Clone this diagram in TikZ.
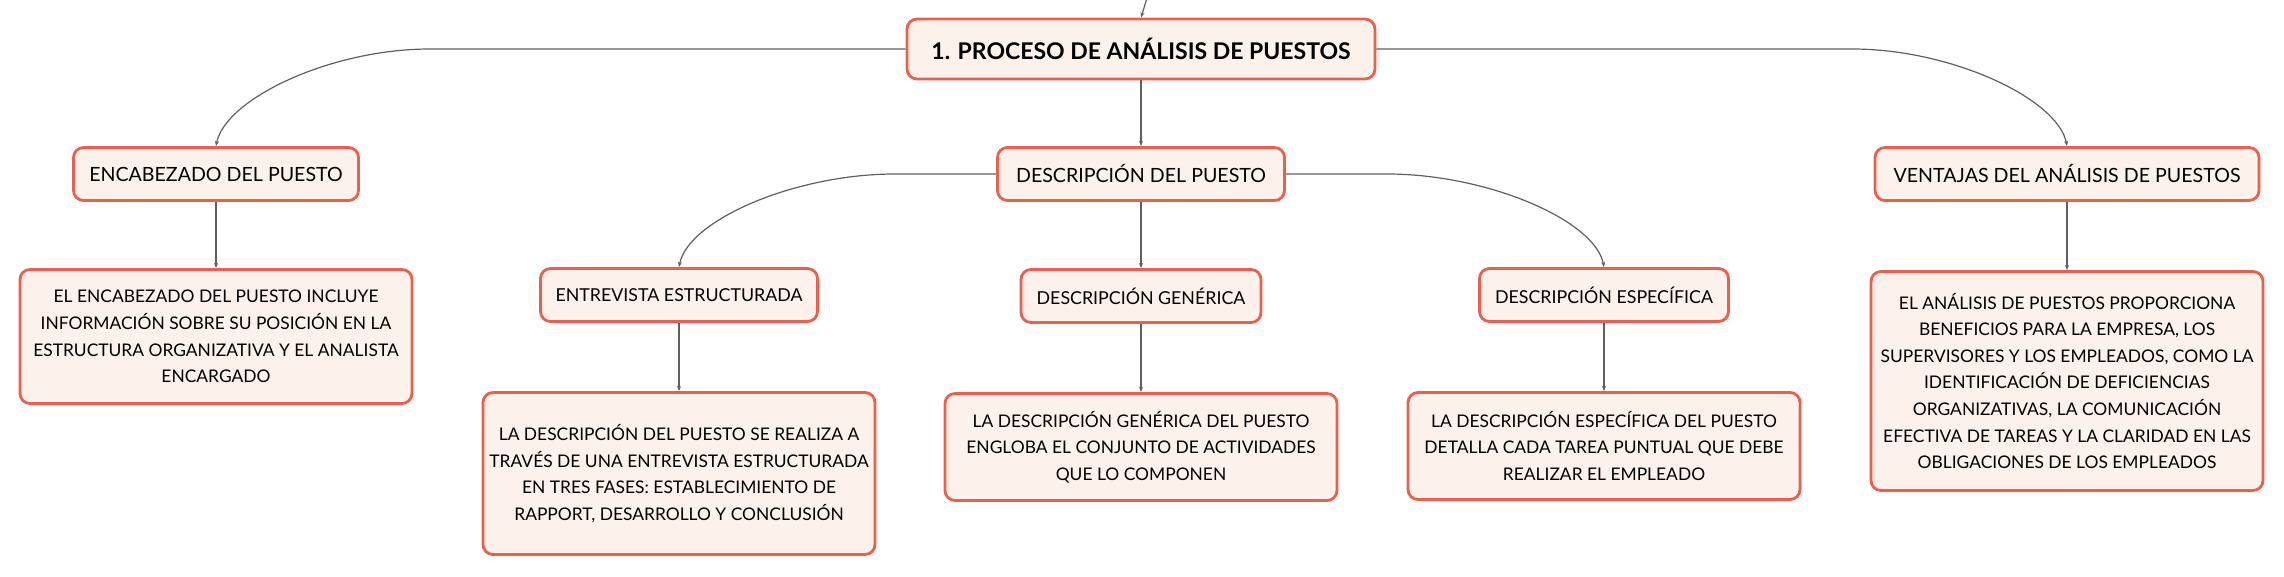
\documentclass[tikz,border=0pt]{standalone}
\usepackage{fontspec}
\setmainfont{Lato}
\usetikzlibrary{arrows.meta,positioning}
\definecolor{coral}{RGB}{234,96,76}
\definecolor{blush}{RGB}{253,241,236}
\definecolor{wire}{RGB}{95,95,95}
\tikzset{
	mmbox/.style={
		rectangle, rounded corners=5pt, line width=1.4pt,
		draw=coral, fill=blush, align=center, inner sep=0pt
	},
	%
	maintopic/.style={
		mmbox, minimum height=30pt, font=\fontsize{11.5}{13}\selectfont\bfseries
	},
	%
	topic/.style={
		mmbox, minimum height=26.5pt, font=\fontsize{9.8}{12}\selectfont
	},
	%
	subtopic/.style={
		mmbox, minimum height=26.5pt, font=\fontsize{8.9}{11}\selectfont
	},
	%
	mytextbox/.style={
		mmbox, minimum width=196pt, font=\fontsize{8.7}{13.3}\selectfont
	},
	%
	connector/.style={
		-{Stealth[length=2.6pt,width=2pt]}, draw=wire, line width=0.6pt
	}
}
\begin{document}
\begin{tikzpicture}[x=0.5pt, y=-0.5pt]
    \useasboundingbox (0,0) rectangle (2284,577);
    \node(main)[maintopic, minimum width=234pt] at (1141,49){1. PROCESO DE ANÁLISIS DE PUESTOS};
    \node(enc)[topic, minimum width=142.5pt] at (216,174){ENCABEZADO DEL PUESTO};
    \node(desc)[topic, minimum width=143.5pt] at (1141,174){DESCRIPCIÓN DEL PUESTO};
    \node(vent)[topic, minimum width=192pt] at (2067,174){VENTAJAS DEL ANÁLISIS DE PUESTOS};
    \node(entr)[subtopic, minimum width=138.5pt] at (679,295){ENTREVISTA ESTRUCTURADA};
    \node(gen)[subtopic, minimum width=120pt, below=33.1pt of desc]{DESCRIPCIÓN GENÉRICA};
    \node(esp)[subtopic, minimum width=124.5pt] at (1604,295){DESCRIPCIÓN ESPECÍFICA};
    \node(encT)[mytextbox, minimum height=67pt, below=33.1pt of enc]{EL ENCABEZADO DEL PUESTO INCLUYE\\INFORMACIÓN SOBRE SU POSICIÓN EN LA\\ESTRUCTURA ORGANIZATIVA Y EL ANALISTA\\ENCARGADO};
    \node(entrT)[mytextbox, minimum height=81pt, below=34.1pt of entr]{LA DESCRIPCIÓN DEL PUESTO SE REALIZA A\\TRAVÉS DE UNA ENTREVISTA ESTRUCTURADA\\EN TRES FASES: ESTABLECIMIENTO DE\\RAPPORT, DESARROLLO Y CONCLUSIÓN};
    \node(genT)[mytextbox, minimum height=53.5pt, below=34.1pt of gen]{LA DESCRIPCIÓN GENÉRICA DEL PUESTO\\ENGLOBA EL CONJUNTO DE ACTIVIDADES\\QUE LO COMPONEN};
    \node(espT)[mytextbox, minimum height=53.5pt, below=34.1pt of esp]{LA DESCRIPCIÓN ESPECÍFICA DEL PUESTO\\DETALLA CADA TAREA PUNTUAL QUE DEBE\\REALIZAR EL EMPLEADO};
    \node(ventT)[mytextbox, minimum height=109.5pt, below=34.1pt of vent]{EL ANÁLISIS DE PUESTOS PROPORCIONA\\BENEFICIOS PARA LA EMPRESA, LOS\\SUPERVISORES Y LOS EMPLEADOS, COMO LA\\IDENTIFICACIÓN DE DEFICIENCIAS\\ORGANIZATIVAS, LA COMUNICACIÓN\\EFECTIVA DE TAREAS Y LA CLARIDAD EN LAS\\OBLIGACIONES DE LOS EMPLEADOS};
    % branch points of the curved links
    \coordinate(root) at (1147,-2);
    \coordinate(encBend) at (430,49);
    \coordinate(ventBend) at (1852,49);
    \coordinate(entrBend) at (895,174);
    \coordinate(espBend) at (1387,174);
    \draw[connector] (root) -- (main.north);
    \draw[connector] (main.west) -- (encBend) .. controls +(-100,0) and +(9,-47) .. (enc.north);
    \draw[connector] (main.east) -- (ventBend) .. controls +(100,0) and +(-9,-47) .. (vent.north);
    \draw[connector] (main) -- (desc);
    \draw[connector] (desc.west) -- (entrBend) .. controls +(-100,0) and +(9,-47) .. (entr.north);
    \draw[connector] (desc.east) -- (espBend) .. controls +(100,0) and +(-9,-47) .. (esp.north);
    \draw[connector] (desc) -- (gen);
    \foreach \a in {enc,entr,gen,esp,vent}
        \draw[connector] (\a) -- (\a T);
\end{tikzpicture}
\end{document}
